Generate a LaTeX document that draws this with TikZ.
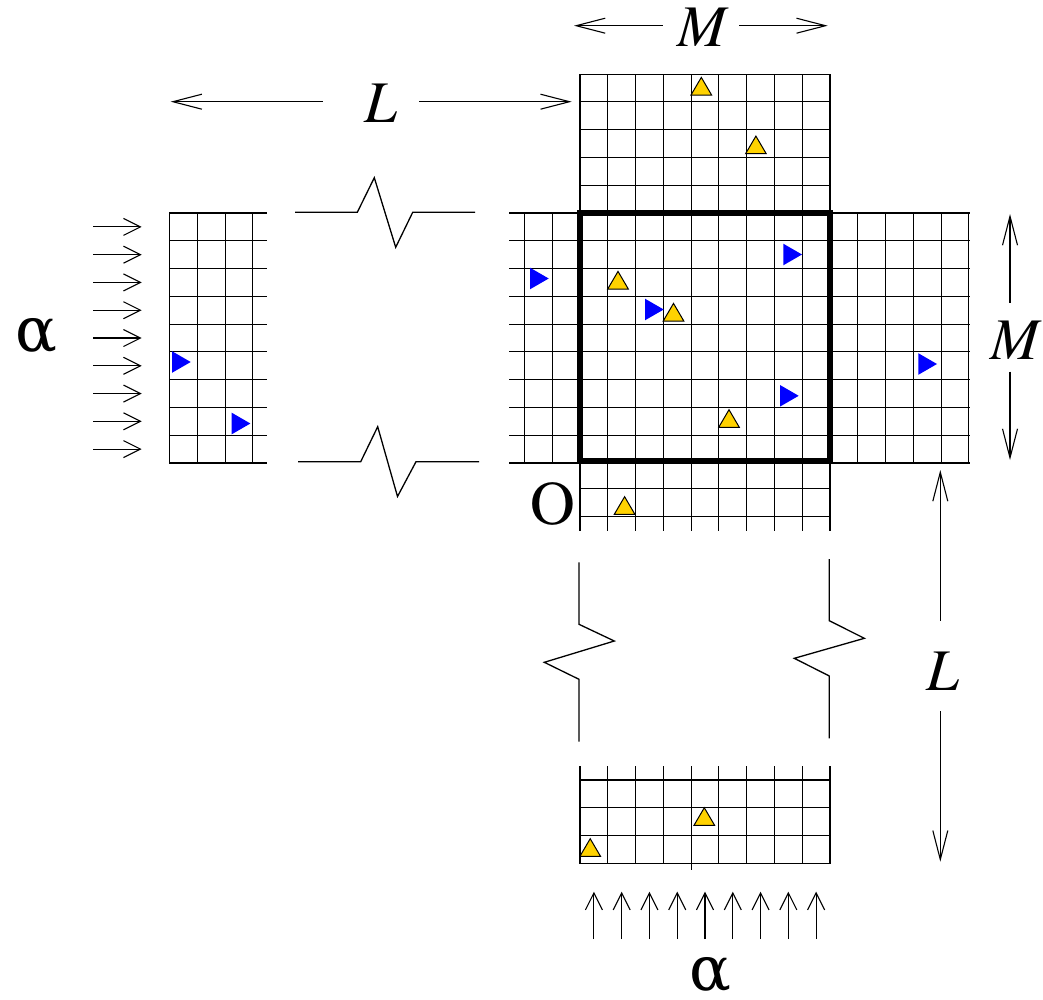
\documentclass[tikz,border=0pt]{standalone}
\usepackage{fontspec}
\setmainfont{texgyretermes}[Extension=.otf,UprightFont=*-regular,ItalicFont=*-italic,BoldFont=*-bold,BoldItalicFont=*-bolditalic]
\newfontfamily\greekfont{DejaVu Serif}
\usetikzlibrary{arrows.meta}
\definecolor{triyellow}{RGB}{255,210,0}
\definecolor{triblue}{RGB}{0,0,255}
\begin{document}
\begin{tikzpicture}[x=1pt,y=-1pt,
  gridline/.style={line width=1.1pt,line cap=rect},
  breakline/.style={line width=1.3pt,line join=miter},
  bigdim/.style={line width=1.1pt,-{Straight Barb[length=29pt,width=15pt,line width=1.1pt]}},
  smalldim/.style={line width=1.1pt,-{Straight Barb[length=17pt,width=17pt,line width=1.1pt]}},
  lbl/.style={inner sep=0pt,font=\fontsize{59}{62}\selectfont},
  greek/.style={inner sep=0pt,font=\fontsize{62}{64}\selectfont\greekfont},
  ytri/.pic={\draw[fill=triyellow,line width=1pt,line join=miter] (-10.3,0)--(10.3,0)--(0,-17.6)--cycle;},
  btri/.pic={\fill[triblue] (0,-10.8)--(18.7,0)--(0,10.8)--cycle;}]
\useasboundingbox (0,0) rectangle (1043,999);
\def\c{27.7778}
% ---------- top grid + central columns + bottom stub ----------
\foreach \i in {0,...,9} {
  \draw[gridline] ({580+\i*\c},74.1) -- ({580+\i*\c},530.5);
}
\foreach \k in {1,...,5} {
  \draw[gridline] (580,{213-\k*\c}) -- (830,{213-\k*\c});
}
% rows across left extension, centre and right extension
\foreach \k in {0,...,9} {
  \draw[gridline] (510,{213+\k*\c}) -- (969,{213+\k*\c});
}
% left extension columns
\foreach \xx in {524.4,552.2} {
  \draw[gridline] (\xx,213) -- (\xx,461);
}
% right extension columns
\foreach \i in {1,...,5} {
  \draw[gridline] ({830+\i*\c},213) -- ({830+\i*\c},461);
}
% rows below centre
\foreach \k in {1,2} {
  \draw[gridline] (580,{461+\k*\c}) -- (830,{461+\k*\c});
}
% thick central square
\draw[line width=6pt,line join=miter] (580,213) rectangle (830,461);
% ---------- left piece ----------
\foreach \i in {0,...,3} {
  \draw[gridline] ({169.5+\i*\c},213) -- ({169.5+\i*\c},461);
}
\foreach \k in {0,...,9} {
  \draw[gridline] (169.5,{213+\k*\c}) -- (266.7,{213+\k*\c});
}
% ---------- bottom piece ----------
\foreach \i in {0,...,9} {
  \draw[gridline] ({580+\i*\c},766.1) -- ({580+\i*\c},863.3);
}
\foreach \k in {0,...,3} {
  \draw[gridline] (580,{863.3-\k*\c}) -- (830,{863.3-\k*\c});
}
\draw[gridline] (691.1,863.3) -- (691.1,869);
% ---------- break lines ----------
\draw[breakline] (295,212.3) -- (357.3,212.3) -- (374.3,177.7) -- (395.7,247.3) -- (412.7,212.3) -- (475,212.3);
\draw[breakline] (298,461.7) -- (360.7,461.7) -- (377.7,426.7) -- (397.5,496.5) -- (416,461.7) -- (479,461.7);
\draw[breakline] (579,562.3) -- (579,624.3) -- (614.3,641) -- (544.3,662.3) -- (579,679.3) -- (579,741.7);
\draw[breakline] (829.3,559) -- (829.3,620.7) -- (864.3,638.3) -- (794.3,658.3) -- (829.3,676) -- (829.3,738.3);
% ---------- dimension labels ----------
\node[lbl] (Mtop) at (701.7,27.5) {\itshape M};
\coordinate (Mtl) at (662.7,25.7); \coordinate (Mtlend) at (574,25.7);
\coordinate (Mtr) at (739,25.7); \coordinate (Mtrend) at (827.7,25.7);
\draw[bigdim] (Mtl) -- (Mtlend);
\draw[bigdim] (Mtr) -- (Mtrend);

\node[lbl] (Ltop) at (380.5,103.7) {\itshape L};
\coordinate (Ltl) at (322.7,101.7); \coordinate (Ltlend) at (170.7,101.7);
\coordinate (Ltr) at (419.3,101.7); \coordinate (Ltrend) at (571.7,101.7);
\draw[bigdim] (Ltl) -- (Ltlend);
\draw[bigdim] (Ltr) -- (Ltrend);

\node[lbl] (Mright) at (1014.7,340) {\itshape M};
\coordinate (Mru) at (1010,302.7); \coordinate (Mruend) at (1010,214);
\coordinate (Mrd) at (1010,371.7); \coordinate (Mrdend) at (1010,460);
\draw[bigdim] (Mru) -- (Mruend);
\draw[bigdim] (Mrd) -- (Mrdend);

\node[lbl] (Lright) at (943,671) {\itshape L};
\coordinate (Lru) at (940.3,620.7); \coordinate (Lruend) at (940.3,470);
\coordinate (Lrd) at (940.3,711); \coordinate (Lrdend) at (940.3,861.7);
\draw[bigdim] (Lru) -- (Lruend);
\draw[bigdim] (Lrd) -- (Lrdend);

\node[greek] (alphaL) at (36,336) {α};
\node[greek] (alphaB) at (710.5,975) {α};
\node[lbl,font=\fontsize{62}{64}\selectfont] (origin) at (552.7,504) {O};
% ---------- inflow arrows ----------
\foreach \k in {0,...,8} {
  \coordinate (la\k) at (93,{213+(\k+0.5)*\c});
  \coordinate (lb\k) at (141.7,{213+(\k+0.5)*\c});
  \draw[smalldim] (la\k) -- (lb\k);
}
\foreach \i in {0,...,8} {
  \coordinate (ba\i) at ({580+(\i+0.5)*\c},939);
  \coordinate (bb\i) at ({580+(\i+0.5)*\c},891.7);
  \draw[smalldim] (ba\i) -- (bb\i);
}
% ---------- particles ----------
\foreach \p in {(701.3,95),(755.9,153.7),(618,289),(673.5,321),(729,427.3),(624.6,514.3),(704.3,825.3),(590.2,856.3)} {
  \pic at \p {ytri};
}
\foreach \p in {(172,362),(231.7,423.5),(530,278.5),(645,309.5),(783.3,254.5),(780,395.8),(918.3,364)} {
  \pic at \p {btri};
}
\end{tikzpicture}
\end{document}
